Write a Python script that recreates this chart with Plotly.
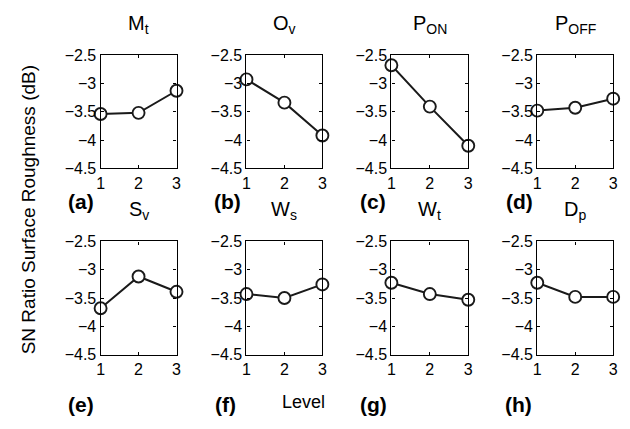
import plotly.graph_objects as go

levels = [1, 2, 3]
titles = ["M<sub>t</sub>", "O<sub>v</sub>", "P<sub>ON</sub>", "P<sub>OFF</sub>",
          "S<sub>v</sub>", "W<sub>s</sub>", "W<sub>t</sub>", "D<sub>p</sub>"]
panel_labels = ["(a)", "(b)", "(c)", "(d)", "(e)", "(f)", "(g)", "(h)"]
sn_mt = [-3.54, -3.52, -3.13]
sn_ov = [-2.93, -3.34, -3.92]
sn_pon = [-2.68, -3.41, -4.10]
sn_poff = [-3.48, -3.43, -3.27]
sn_sv = [-3.68, -3.12, -3.39]
sn_ws = [-3.43, -3.50, -3.26]
sn_wt = [-3.23, -3.43, -3.53]
sn_dp = [-3.23, -3.48, -3.48]
series = [sn_mt, sn_ov, sn_pon, sn_poff, sn_sv, sn_ws, sn_wt, sn_dp]
ytickvals = [-2.5, -3, -3.5, -4, -4.5]
yticktext = ["\u22122.5", "\u22123", "\u22123.5", "\u22124", "\u22124.5"]

W, H = 630, 429
col_px = [(98, 175), (246, 323), (393, 471), (541, 618)]
row_px = [(49, 167), (243, 361)]
label_px = [(78, 201), (227, 201), (374, 201), (523, 201),
            (78, 413), (225, 413), (375, 413), (522, 413)]

FONT = "Liberation Sans, Arial, Helvetica, sans-serif"
fig = go.Figure()
annotations = []
for i, ys in enumerate(series):
    r, c = divmod(i, 4)
    n = i + 1
    xa = "x" if n == 1 else f"x{n}"
    ya = "y" if n == 1 else f"y{n}"
    fig.add_trace(go.Scatter(
        x=levels, y=ys, xaxis=xa, yaxis=ya, mode="lines+markers",
        line=dict(color="#1a1a1a", width=2),
        marker=dict(symbol="circle", size=12, color="white",
                    line=dict(color="#1a1a1a", width=1.9)),
        cliponaxis=False, showlegend=False, hoverinfo="skip"))
    x0, x1 = col_px[c]
    y0, y1 = row_px[r]
    xkey = "xaxis" if n == 1 else f"xaxis{n}"
    ykey = "yaxis" if n == 1 else f"yaxis{n}"
    fig.layout[xkey] = dict(
        domain=[x0 / W, x1 / W], anchor=ya, range=[1, 3],
        tickvals=levels, ticks="inside", ticklen=3, tickcolor="black",
        showline=True, linecolor="black", linewidth=1.3, mirror="ticks",
        showgrid=False, zeroline=False,
        tickfont=dict(family=FONT, size=16, color="black"))
    fig.layout[ykey] = dict(
        domain=[1 - y1 / H, 1 - y0 / H], anchor=xa, range=[-4.5, -2.5],
        tickvals=ytickvals, ticktext=yticktext,
        ticks="inside", ticklen=3, tickcolor="black",
        showline=True, linecolor="black", linewidth=1.3, mirror="ticks",
        showgrid=False, zeroline=False,
        tickfont=dict(family=FONT, size=16, color="black"))
    annotations.append(dict(
        text=titles[i], x=(x0 + x1) / 2 / W, y=1 - (y0 - 17) / H,
        xref="paper", yref="paper", xanchor="center", yanchor="bottom",
        showarrow=False, font=dict(family=FONT, size=20, color="black")))
    lx, ly = label_px[i]
    annotations.append(dict(
        text="<b>" + panel_labels[i] + "</b>", x=lx / W, y=1 - ly / H,
        xref="paper", yref="paper", xanchor="center", yanchor="middle",
        showarrow=False, font=dict(family=FONT, size=21, color="black")))

annotations.append(dict(
    text="SN Ratio Surface Roughness (dB)", x=25 / W, y=1 - 210 / H,
    xref="paper", yref="paper", xanchor="center", yanchor="middle",
    textangle=-90, showarrow=False,
    font=dict(family=FONT, size=19, color="black")))
annotations.append(dict(
    text="Level", x=304 / W, y=1 - 410 / H,
    xref="paper", yref="paper", xanchor="center", yanchor="middle",
    showarrow=False, font=dict(family=FONT, size=18, color="black")))

fig.update_layout(
    width=W, height=H, margin=dict(l=0, r=0, t=0, b=0),
    paper_bgcolor="white", plot_bgcolor="white",
    annotations=annotations)
fig.write_html("out.html")
